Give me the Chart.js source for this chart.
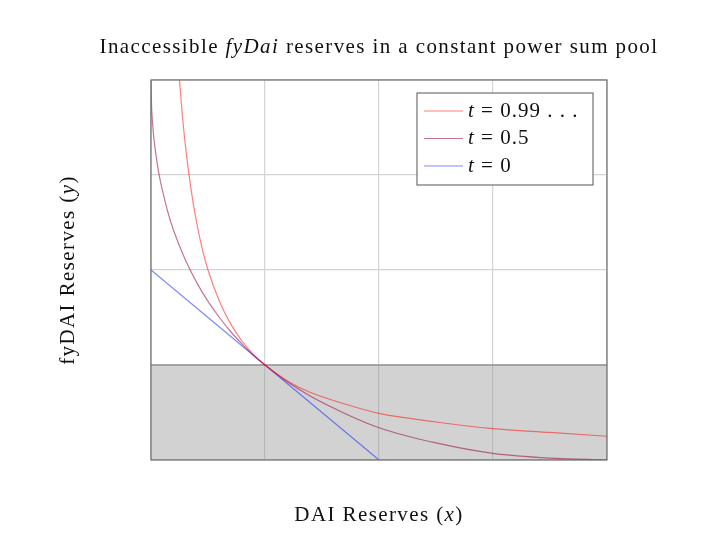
<!DOCTYPE html>
<html>
<head>
<meta charset="utf-8">
<script src="https://cdn.jsdelivr.net/npm/chart.js@4.4.0/dist/chart.umd.min.js"></script>
<style>
  html, body { margin: 0; padding: 0; background: #fff; }
  #wrap { width: 726px; height: 534px; }
</style>
</head>
<body>
<div id="wrap"><canvas id="grafico"></canvas></div>
<script>
// values (axes run 0..4 on both sides)
const xHigh = [0.25, 0.27, 0.3, 0.35, 0.4, 0.45, 0.5, 0.6, 0.7, 0.8, 0.9, 1, 1.2, 1.4, 1.7, 2, 2.5, 3, 3.5, 4];
const yHigh = [4, 3.7, 3.33, 2.86, 2.5, 2.22, 2, 1.67, 1.43, 1.25, 1.11, 1, 0.83, 0.71, 0.59, 0.49, 0.4, 0.33, 0.29, 0.25];

const xHalf = [0, 0.005, 0.01, 0.02, 0.04, 0.07, 0.1, 0.15, 0.2, 0.3, 0.4, 0.5, 0.6, 0.7, 0.8, 0.9, 1, 1.2, 1.4, 1.7, 2, 2.5, 3, 3.5, 4];
const yHalf = [4, 3.72, 3.61, 3.45, 3.24, 3.01, 2.84, 2.6, 2.41, 2.11, 1.87, 1.67, 1.5, 1.35, 1.22, 1.1, 1, 0.82, 0.67, 0.49, 0.34, 0.18, 0.07, 0.02, 0];

const xZero = [0, 2];
const yZero = [2, 0];

const xShade = [0, 4];
const yShade = [1, 1];

const labels = ['t = 0.99 . . .', 't = 0.5', 't = 0'];
const colors = ['rgba(255, 20, 20, 0.55)', 'rgba(150, 0, 70, 0.55)', 'rgba(20, 40, 255, 0.55)'];

const axisMin = 0;
const axisMax = 4;

function pts(xs, ys) {
    return xs.map((x, i) => ({ x: x, y: ys[i] }));
}

const serif = '"Liberation Serif", "DejaVu Serif", serif';

// writes pieces of text, some in italic, centred on x
function mixedText(ctx, parts, x, y, size, spacing) {
    ctx.letterSpacing = spacing + 'px';
    let total = 0;
    parts.forEach(p => {
        ctx.font = (p[1] ? 'italic ' : '') + size + 'px ' + serif;
        total += ctx.measureText(p[0]).width;
    });
    let cx = x - total / 2;
    ctx.textAlign = 'left';
    ctx.textBaseline = 'middle';
    parts.forEach(p => {
        ctx.font = (p[1] ? 'italic ' : '') + size + 'px ' + serif;
        ctx.fillText(p[0], cx, y);
        cx += ctx.measureText(p[0]).width;
    });
    ctx.letterSpacing = '0px';
}

const extras = {
    id: 'extras',
    afterDraw(chart) {
        const ctx = chart.ctx;
        const a = chart.chartArea;
        ctx.save();

        // frame round the plot
        ctx.strokeStyle = '#6e6e6e';
        ctx.lineWidth = 1.2;
        ctx.strokeRect(a.left, a.top, a.right - a.left, a.bottom - a.top);

        ctx.fillStyle = '#111';
        const cx = (a.left + a.right) / 2;
        mixedText(ctx, [['Inaccessible ', false], ['fyDai', true], [' reserves in a constant power sum pool', false]], cx, 47, 21, 1.4);
        mixedText(ctx, [['DAI Reserves (', false], ['x', true], [')', false]], cx, 515, 21, 1.4);

        ctx.save();
        ctx.translate(68, (a.top + a.bottom) / 2);
        ctx.rotate(-Math.PI / 2);
        mixedText(ctx, [['fyDAI Reserves (', false], ['y', true], [')', false]], 0, 0, 21, 1.4);
        ctx.restore();

        // legend box in the top right corner
        const bx = 417, by = 93, bw = 176, bh = 92;
        ctx.fillStyle = '#fff';
        ctx.fillRect(bx, by, bw, bh);
        ctx.strokeStyle = '#555';
        ctx.lineWidth = 1;
        ctx.strokeRect(bx, by, bw, bh);
        labels.forEach((lab, i) => {
            const ly = 111 + i * 27.5;
            ctx.strokeStyle = colors[i];
            ctx.lineWidth = 1.2;
            ctx.beginPath();
            ctx.moveTo(424, ly);
            ctx.lineTo(463, ly);
            ctx.stroke();
            ctx.fillStyle = '#111';
            ctx.textAlign = 'left';
            ctx.textBaseline = 'middle';
            ctx.letterSpacing = '1px';
            ctx.font = 'italic 21px ' + serif;
            ctx.fillText(lab.charAt(0), 468, ly);
            const w = ctx.measureText(lab.charAt(0)).width;
            ctx.font = '21px ' + serif;
            ctx.fillText(lab.slice(1), 468 + w, ly);
            ctx.letterSpacing = '0px';
        });
        ctx.restore();
    }
};

const grafico = document.getElementById('grafico');

const line = {
    showLine: true,
    borderWidth: 1.2,
    pointRadius: 0,
    fill: false,
    cubicInterpolationMode: 'monotone'
};

new Chart(grafico, {
    type: 'scatter',
    data: {
        datasets: [
            Object.assign({ label: labels[0], data: pts(xHigh, yHigh), borderColor: colors[0] }, line),
            Object.assign({ label: labels[1], data: pts(xHalf, yHalf), borderColor: colors[1] }, line),
            Object.assign({ label: labels[2], data: pts(xZero, yZero), borderColor: colors[2] }, line),
            {
                label: 'shade',
                data: pts(xShade, yShade),
                showLine: true,
                borderColor: '#7a7a7a',
                borderWidth: 1.2,
                backgroundColor: 'rgba(150, 150, 150, 0.43)',
                pointRadius: 0,
                fill: 'origin'
            }
        ]
    },
    options: {
        responsive: true,
        maintainAspectRatio: false,
        animation: false,
        layout: {
            padding: { top: 80, left: 151, right: 119, bottom: 74 }
        },
        plugins: {
            legend: { display: false },
            title: { display: false },
            tooltip: { enabled: false }
        },
        scales: {
            x: {
                min: axisMin,
                max: axisMax,
                ticks: { display: false, stepSize: 1 },
                grid: { color: '#d4d4d4', drawTicks: false, lineWidth: 1.2 },
                border: { display: false }
            },
            y: {
                min: axisMin,
                max: axisMax,
                ticks: { display: false, stepSize: 1 },
                grid: { color: '#d4d4d4', drawTicks: false, lineWidth: 1.2 },
                border: { display: false }
            }
        }
    },
    plugins: [extras]
});
</script>
</body>
</html>
